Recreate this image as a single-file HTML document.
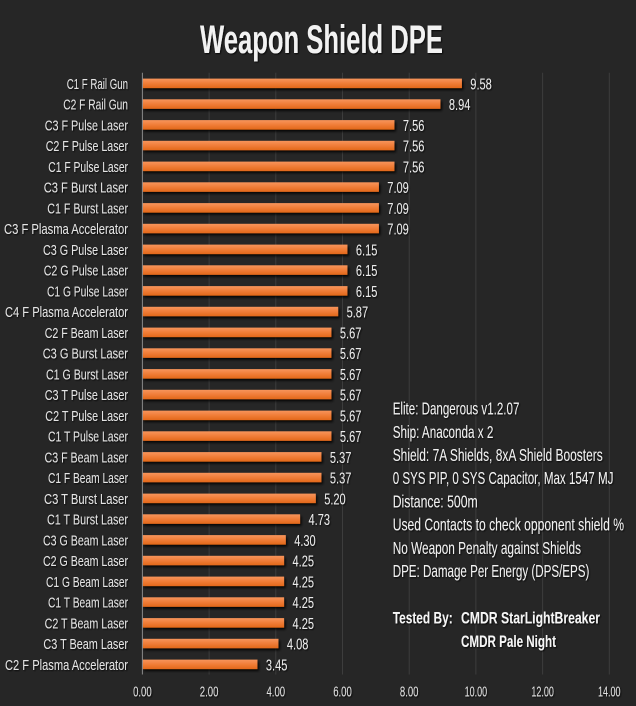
<!DOCTYPE html>
<html>
<head>
<meta charset="utf-8">
<style>
html,body{margin:0;padding:0;background:#262626;}
svg{display:block;}
text{font-family:"Liberation Sans Narrow","Liberation Sans",sans-serif;}
</style>
</head>
<body>
<svg width="636" height="706" viewBox="0 0 636 706" xmlns="http://www.w3.org/2000/svg">
<defs>
<linearGradient id="bar" x1="0" y1="0" x2="0" y2="1">
<stop offset="0" stop-color="#f7955c"/>
<stop offset="0.5" stop-color="#f07d38"/>
<stop offset="1" stop-color="#e2681a"/>
</linearGradient>
<filter id="sh" x="-5%" y="-50%" width="110%" height="220%">
<feDropShadow dx="1.5" dy="2" stdDeviation="1.2" flood-color="#000" flood-opacity="0.85"/>
</filter>
<filter id="ts" x="-5%" y="-20%" width="110%" height="150%">
<feDropShadow dx="1" dy="1" stdDeviation="0.8" flood-color="#000" flood-opacity="0.8"/>
</filter>
</defs>
<rect width="636" height="706" fill="#262626"/>

<!-- title -->
<text x="200" y="53" font-size="40" font-weight="bold" fill="#f2f2f2" textLength="243" lengthAdjust="spacingAndGlyphs" filter="url(#ts)">Weapon Shield DPE</text>

<!-- gridlines -->
<g stroke="#3d3d3d" stroke-width="1">
<line x1="209.1" y1="72.7" x2="209.1" y2="674.5"/>
<line x1="275.8" y1="72.7" x2="275.8" y2="674.5"/>
<line x1="342.5" y1="72.7" x2="342.5" y2="674.5"/>
<line x1="409.2" y1="72.7" x2="409.2" y2="674.5"/>
<line x1="475.9" y1="72.7" x2="475.9" y2="674.5"/>
<line x1="542.6" y1="72.7" x2="542.6" y2="674.5"/>
<line x1="609.3" y1="72.7" x2="609.3" y2="674.5"/>
</g>

<!-- bars -->
<g fill="url(#bar)" filter="url(#sh)">
<rect x="142.4" y="78.6" width="319.5" height="9.5"/>
<rect x="142.4" y="99.3" width="298.1" height="9.5"/>
<rect x="142.4" y="120.1" width="252.1" height="9.5"/>
<rect x="142.4" y="140.8" width="252.1" height="9.5"/>
<rect x="142.4" y="161.6" width="252.1" height="9.5"/>
<rect x="142.4" y="182.3" width="236.5" height="9.5"/>
<rect x="142.4" y="203.1" width="236.5" height="9.5"/>
<rect x="142.4" y="223.8" width="236.5" height="9.5"/>
<rect x="142.4" y="244.6" width="205.1" height="9.5"/>
<rect x="142.4" y="265.3" width="205.1" height="9.5"/>
<rect x="142.4" y="286.1" width="205.1" height="9.5"/>
<rect x="142.4" y="306.8" width="195.8" height="9.5"/>
<rect x="142.4" y="327.6" width="189.1" height="9.5"/>
<rect x="142.4" y="348.3" width="189.1" height="9.5"/>
<rect x="142.4" y="369.1" width="189.1" height="9.5"/>
<rect x="142.4" y="389.8" width="189.1" height="9.5"/>
<rect x="142.4" y="410.6" width="189.1" height="9.5"/>
<rect x="142.4" y="431.3" width="189.1" height="9.5"/>
<rect x="142.4" y="452.1" width="179.1" height="9.5"/>
<rect x="142.4" y="472.8" width="179.1" height="9.5"/>
<rect x="142.4" y="493.6" width="173.4" height="9.5"/>
<rect x="142.4" y="514.3" width="157.7" height="9.5"/>
<rect x="142.4" y="535.1" width="143.4" height="9.5"/>
<rect x="142.4" y="555.8" width="141.7" height="9.5"/>
<rect x="142.4" y="576.6" width="141.7" height="9.5"/>
<rect x="142.4" y="597.3" width="141.7" height="9.5"/>
<rect x="142.4" y="618.1" width="141.7" height="9.5"/>
<rect x="142.4" y="638.8" width="136.1" height="9.5"/>
<rect x="142.4" y="659.6" width="115.1" height="9.5"/>
</g>

<!-- axis line -->
<line x1="142.4" y1="72.7" x2="142.4" y2="674.5" stroke="#8a8a8a" stroke-width="1"/>

<!-- category labels -->
<g font-size="15" fill="#e4e4e4" text-anchor="end" filter="url(#ts)">
<text x="128" y="89" textLength="61.3" lengthAdjust="spacingAndGlyphs">C1 F Rail Gun</text>
<text x="128" y="109.7" textLength="64.7" lengthAdjust="spacingAndGlyphs">C2 F Rail Gun</text>
<text x="128" y="130.5" textLength="83.3" lengthAdjust="spacingAndGlyphs">C3 F Pulse Laser</text>
<text x="128" y="151.2" textLength="82.3" lengthAdjust="spacingAndGlyphs">C2 F Pulse Laser</text>
<text x="128" y="172" textLength="79.7" lengthAdjust="spacingAndGlyphs">C1 F Pulse Laser</text>
<text x="128" y="192.7" textLength="84.3" lengthAdjust="spacingAndGlyphs">C3 F Burst Laser</text>
<text x="128" y="213.5" textLength="80.7" lengthAdjust="spacingAndGlyphs">C1 F Burst Laser</text>
<text x="128" y="234.2" textLength="124" lengthAdjust="spacingAndGlyphs">C3 F Plasma Accelerator</text>
<text x="128" y="255" textLength="85" lengthAdjust="spacingAndGlyphs">C3 G Pulse Laser</text>
<text x="128" y="275.7" textLength="84.3" lengthAdjust="spacingAndGlyphs">C2 G Pulse Laser</text>
<text x="128" y="296.5" textLength="81" lengthAdjust="spacingAndGlyphs">C1 G Pulse Laser</text>
<text x="128" y="317.2" textLength="123" lengthAdjust="spacingAndGlyphs">C4 F Plasma Accelerator</text>
<text x="128" y="338" textLength="83.3" lengthAdjust="spacingAndGlyphs">C2 F Beam Laser</text>
<text x="128" y="358.7" textLength="85.3" lengthAdjust="spacingAndGlyphs">C3 G Burst Laser</text>
<text x="128" y="379.5" textLength="82" lengthAdjust="spacingAndGlyphs">C1 G Burst Laser</text>
<text x="128" y="400.2" textLength="83.3" lengthAdjust="spacingAndGlyphs">C3 T Pulse Laser</text>
<text x="128" y="421" textLength="82.7" lengthAdjust="spacingAndGlyphs">C2 T Pulse Laser</text>
<text x="128" y="441.7" textLength="80" lengthAdjust="spacingAndGlyphs">C1 T Pulse Laser</text>
<text x="128" y="462.5" textLength="83.5" lengthAdjust="spacingAndGlyphs">C3 F Beam Laser</text>
<text x="128" y="483.2" textLength="80" lengthAdjust="spacingAndGlyphs">C1 F Beam Laser</text>
<text x="128" y="504" textLength="84" lengthAdjust="spacingAndGlyphs">C3 T Burst Laser</text>
<text x="128" y="524.7" textLength="81" lengthAdjust="spacingAndGlyphs">C1 T Burst Laser</text>
<text x="128" y="545.5" textLength="85" lengthAdjust="spacingAndGlyphs">C3 G Beam Laser</text>
<text x="128" y="566.2" textLength="85" lengthAdjust="spacingAndGlyphs">C2 G Beam Laser</text>
<text x="128" y="587" textLength="82" lengthAdjust="spacingAndGlyphs">C1 G Beam Laser</text>
<text x="128" y="607.7" textLength="80" lengthAdjust="spacingAndGlyphs">C1 T Beam Laser</text>
<text x="128" y="628.5" textLength="83.4" lengthAdjust="spacingAndGlyphs">C2 T Beam Laser</text>
<text x="128" y="649.2" textLength="84.6" lengthAdjust="spacingAndGlyphs">C3 T Beam Laser</text>
<text x="128" y="670" textLength="123" lengthAdjust="spacingAndGlyphs">C2 F Plasma Accelerator</text>
</g>

<!-- value labels -->
<g font-size="16" fill="#ececec" filter="url(#ts)">
<text x="470.3" y="89.5" textLength="21.5" lengthAdjust="spacingAndGlyphs">9.58</text>
<text x="448.9" y="110.2" textLength="21.5" lengthAdjust="spacingAndGlyphs">8.94</text>
<text x="402.9" y="131" textLength="21.5" lengthAdjust="spacingAndGlyphs">7.56</text>
<text x="402.9" y="151.7" textLength="21.5" lengthAdjust="spacingAndGlyphs">7.56</text>
<text x="402.9" y="172.5" textLength="21.5" lengthAdjust="spacingAndGlyphs">7.56</text>
<text x="387.3" y="193.2" textLength="21.5" lengthAdjust="spacingAndGlyphs">7.09</text>
<text x="387.3" y="214" textLength="21.5" lengthAdjust="spacingAndGlyphs">7.09</text>
<text x="387.3" y="234.7" textLength="21.5" lengthAdjust="spacingAndGlyphs">7.09</text>
<text x="355.9" y="255.5" textLength="21.5" lengthAdjust="spacingAndGlyphs">6.15</text>
<text x="355.9" y="276.2" textLength="21.5" lengthAdjust="spacingAndGlyphs">6.15</text>
<text x="355.9" y="297" textLength="21.5" lengthAdjust="spacingAndGlyphs">6.15</text>
<text x="346.6" y="317.7" textLength="21.5" lengthAdjust="spacingAndGlyphs">5.87</text>
<text x="339.9" y="338.5" textLength="21.5" lengthAdjust="spacingAndGlyphs">5.67</text>
<text x="339.9" y="359.2" textLength="21.5" lengthAdjust="spacingAndGlyphs">5.67</text>
<text x="339.9" y="380" textLength="21.5" lengthAdjust="spacingAndGlyphs">5.67</text>
<text x="339.9" y="400.7" textLength="21.5" lengthAdjust="spacingAndGlyphs">5.67</text>
<text x="339.9" y="421.5" textLength="21.5" lengthAdjust="spacingAndGlyphs">5.67</text>
<text x="339.9" y="442.2" textLength="21.5" lengthAdjust="spacingAndGlyphs">5.67</text>
<text x="329.9" y="463" textLength="21.5" lengthAdjust="spacingAndGlyphs">5.37</text>
<text x="329.9" y="483.7" textLength="21.5" lengthAdjust="spacingAndGlyphs">5.37</text>
<text x="324.2" y="504.5" textLength="21.5" lengthAdjust="spacingAndGlyphs">5.20</text>
<text x="308.5" y="525.2" textLength="21.5" lengthAdjust="spacingAndGlyphs">4.73</text>
<text x="294.2" y="546" textLength="21.5" lengthAdjust="spacingAndGlyphs">4.30</text>
<text x="292.5" y="566.7" textLength="21.5" lengthAdjust="spacingAndGlyphs">4.25</text>
<text x="292.5" y="587.5" textLength="21.5" lengthAdjust="spacingAndGlyphs">4.25</text>
<text x="292.5" y="608.2" textLength="21.5" lengthAdjust="spacingAndGlyphs">4.25</text>
<text x="292.5" y="629" textLength="21.5" lengthAdjust="spacingAndGlyphs">4.25</text>
<text x="286.9" y="649.7" textLength="21.5" lengthAdjust="spacingAndGlyphs">4.08</text>
<text x="265.9" y="670.5" textLength="21.5" lengthAdjust="spacingAndGlyphs">3.45</text>
</g>

<!-- x axis labels -->
<g font-size="14.5" fill="#e0e0e0" text-anchor="middle" filter="url(#ts)">
<text x="142.4" y="696.3" textLength="18.6" lengthAdjust="spacingAndGlyphs">0.00</text>
<text x="209.1" y="696.3" textLength="18.6" lengthAdjust="spacingAndGlyphs">2.00</text>
<text x="275.8" y="696.3" textLength="18.6" lengthAdjust="spacingAndGlyphs">4.00</text>
<text x="342.5" y="696.3" textLength="18.6" lengthAdjust="spacingAndGlyphs">6.00</text>
<text x="409.2" y="696.3" textLength="18.6" lengthAdjust="spacingAndGlyphs">8.00</text>
<text x="475.9" y="696.3" textLength="22.5" lengthAdjust="spacingAndGlyphs">10.00</text>
<text x="542.6" y="696.3" textLength="22.5" lengthAdjust="spacingAndGlyphs">12.00</text>
<text x="609.3" y="696.3" textLength="22.5" lengthAdjust="spacingAndGlyphs">14.00</text>
</g>

<!-- annotation -->
<g font-size="17.5" fill="#f2f2f2" filter="url(#ts)">
<text x="392.7" y="414.6" textLength="126.7" lengthAdjust="spacingAndGlyphs">Elite: Dangerous v1.2.07</text>
<text x="392.7" y="437.8" textLength="100.7" lengthAdjust="spacingAndGlyphs">Ship: Anaconda x 2</text>
<text x="392.7" y="461" textLength="210" lengthAdjust="spacingAndGlyphs">Shield: 7A Shields, 8xA Shield Boosters</text>
<text x="392.7" y="484.2" textLength="220.7" lengthAdjust="spacingAndGlyphs">0 SYS PIP, 0 SYS Capacitor, Max 1547 MJ</text>
<text x="392.7" y="507.4" textLength="85" lengthAdjust="spacingAndGlyphs">Distance: 500m</text>
<text x="392.7" y="530.6" textLength="231.3" lengthAdjust="spacingAndGlyphs">Used Contacts to check opponent shield %</text>
<text x="392.7" y="553.8" textLength="188.3" lengthAdjust="spacingAndGlyphs">No Weapon Penalty against Shields</text>
<text x="392.7" y="577" textLength="196.7" lengthAdjust="spacingAndGlyphs">DPE: Damage Per Energy (DPS/EPS)</text>
</g>
<g font-size="16.5" font-weight="bold" fill="#f6f6f6" filter="url(#ts)">
<text x="392.7" y="623.5" textLength="60" lengthAdjust="spacingAndGlyphs">Tested By:</text>
<text x="461" y="623.5" textLength="139" lengthAdjust="spacingAndGlyphs">CMDR StarLightBreaker</text>
<text x="461" y="646.9" textLength="95" lengthAdjust="spacingAndGlyphs">CMDR Pale Night</text>
</g>
</svg>
</body>
</html>
